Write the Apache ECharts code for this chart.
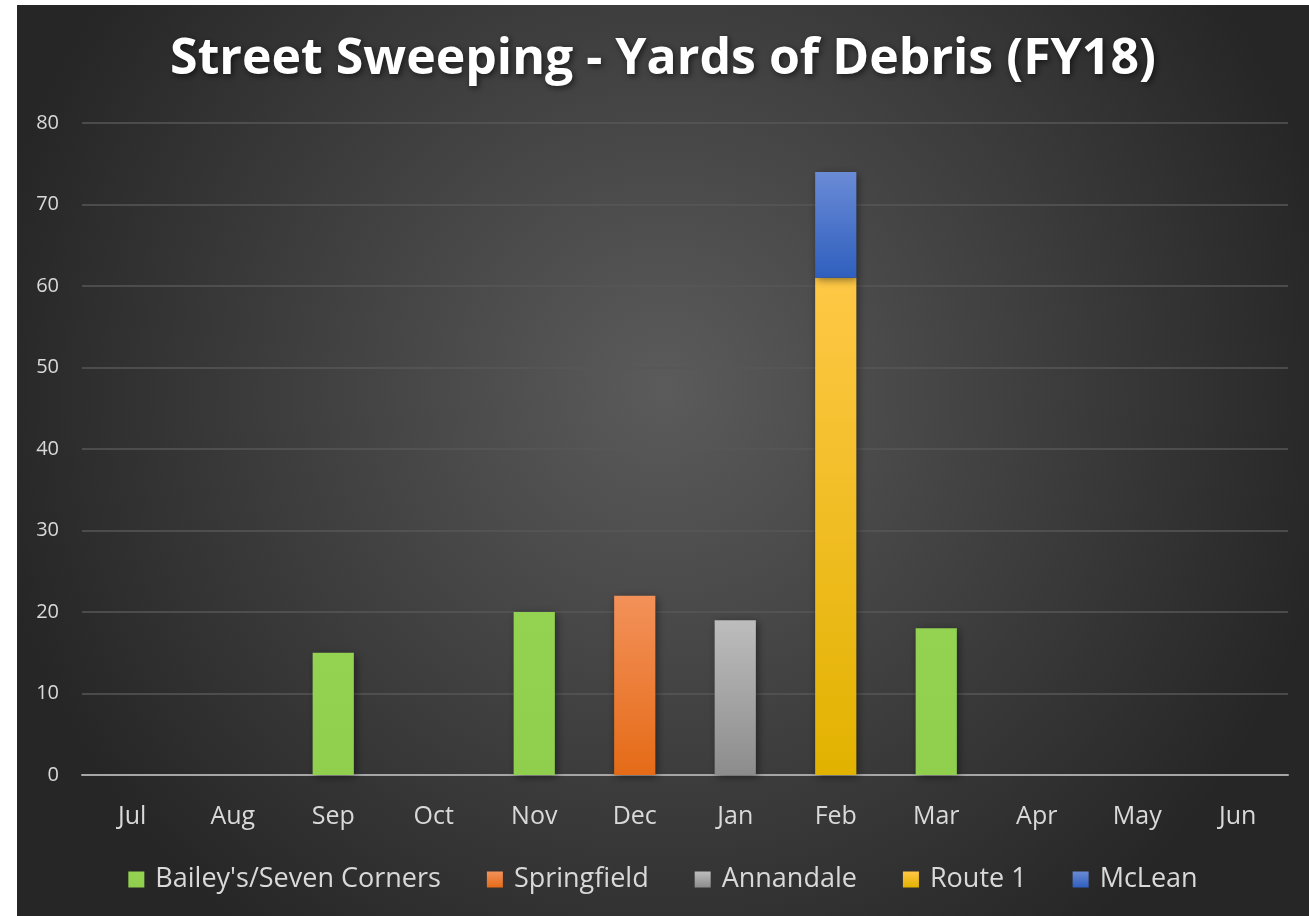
<!DOCTYPE html>
<html>
<head>
<meta charset="utf-8">
<script src="https://cdn.jsdelivr.net/npm/echarts@6/dist/echarts.min.js"></script>
<style>
  html, body { margin: 0; padding: 0; background: #ffffff; }
  #chart { position: absolute; left: 17px; top: 5px; width: 1292px; height: 911px; }
</style>
</head>
<body>
<div id="chart"></div>
<script>
// months of FY18
const months = ['Jul', 'Aug', 'Sep', 'Oct', 'Nov', 'Dec', 'Jan', 'Feb', 'Mar', 'Apr', 'May', 'Jun']

// yards of debris per area
const baileys = [null, null, 15, null, 20, null, null, null, 18, null, null, null]
const springfield = [null, null, null, null, null, 22, null, null, null, null, null, null]
const annandale = [null, null, null, null, null, null, 19, null, null, null, null, null]
const route1 = [null, null, null, null, null, null, null, 61, null, null, null, null]
const mclean = [null, null, null, null, null, null, null, 13, null, null, null, null]

const yTicks = [0, 10, 20, 30, 40, 50, 60, 70, 80]

const FONT = '"Open Sans", "Noto Sans", sans-serif'

const grad = (top, bottom) =>
  new echarts.graphic.LinearGradient(0, 0, 0, 1, [
    { offset: 0, color: top },
    { offset: 1, color: bottom },
  ])

const seriesDefs = [
  { name: "Bailey's/Seven Corners", data: baileys, color: grad('#94d352', '#90cf4e') },
  { name: 'Springfield', data: springfield, color: grad('#f3915a', '#e56b17') },
  { name: 'Annandale', data: annandale, color: grad('#bdbdbd', '#8c8c8c') },
  { name: 'Route 1', data: route1, color: grad('#ffc846', '#e2b200') },
  { name: 'McLean', data: mclean, color: grad('#6a8bd6', '#2f5fbe') },
]

const chart = echarts.init(document.getElementById('chart'))

chart.setOption({
  backgroundColor: new echarts.graphic.RadialGradient(0.5, 0.42, 0.75, [
    { offset: 0, color: '#5b5b5b' },
    { offset: 1, color: '#262626' },
  ]),
  animation: false,
  title: {
    text: 'Street Sweeping - Yards of Debris (FY18)',
    left: 'center',
    top: 25,
    textStyle: {
      color: '#ffffff',
      fontFamily: FONT,
      fontWeight: 'bold',
      fontSize: 50,
      textShadowColor: 'rgba(0,0,0,0.6)',
      textShadowBlur: 6,
      textShadowOffsetX: 2,
      textShadowOffsetY: 2,
    },
  },
  legend: {
    bottom: 18,
    left: 'center',
    icon: 'rect',
    itemWidth: 16,
    itemHeight: 16,
    itemGap: 46,
    textStyle: {
      color: '#d9d9d9',
      fontFamily: FONT,
      fontSize: 27,
      padding: [0, 0, 0, 6],
    },
    data: seriesDefs.map((s) => s.name),
  },
  grid: {
    left: 65,
    right: 21,
    top: 118,
    bottom: 141,
    containLabel: false,
  },
  xAxis: {
    type: 'category',
    data: months,
    axisLine: { lineStyle: { color: '#a6a6a6', width: 2 } },
    axisTick: { show: false },
    axisLabel: {
      color: '#d9d9d9',
      fontFamily: FONT,
      fontSize: 25,
      margin: 29,
    },
  },
  yAxis: {
    type: 'value',
    min: yTicks[0],
    max: yTicks[yTicks.length - 1],
    interval: 10,
    axisLine: { show: false },
    axisTick: { show: false },
    splitLine: { lineStyle: { color: '#575757', width: 1.5 } },
    axisLabel: {
      color: '#d9d9d9',
      fontFamily: FONT,
      fontSize: 20,
      margin: 23,
    },
  },
  series: seriesDefs.map((s) => ({
    name: s.name,
    type: 'bar',
    stack: 'total',
    barWidth: '41%',
    data: s.data,
    itemStyle: {
      color: s.color,
      shadowColor: 'rgba(0,0,0,0.45)',
      shadowBlur: 8,
      shadowOffsetX: 2,
      shadowOffsetY: 2,
    },
  })),
})
</script>
</body>
</html>
